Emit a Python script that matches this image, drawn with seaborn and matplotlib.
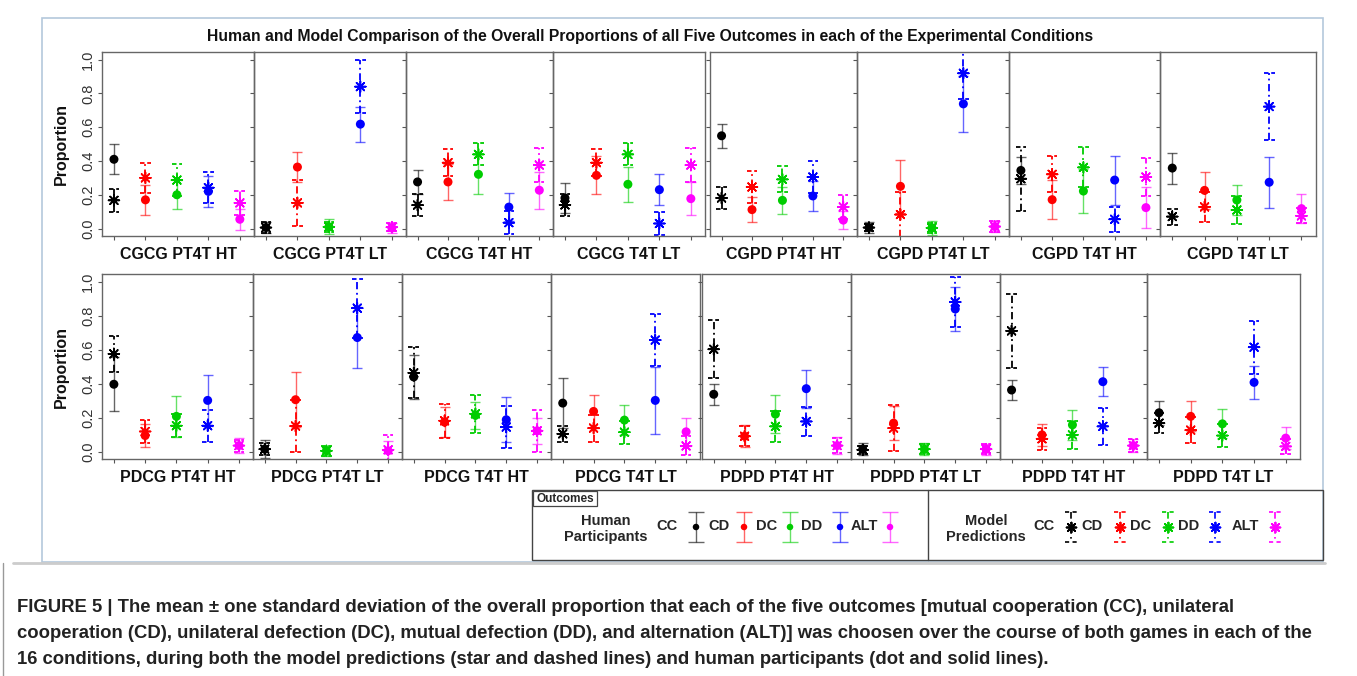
import numpy as np
import pandas as pd
import matplotlib
matplotlib.use("Agg")
import matplotlib.pyplot as plt
from matplotlib.patches import Rectangle
import seaborn as sns

outcomes = ["CC", "CD", "DC", "DD", "ALT"]
colors = ["#000000", "#ff0000", "#00cd00", "#0000ff", "#ff00ff"]

conditions = ["CGCG PT4T HT", "CGCG PT4T LT", "CGCG T4T HT", "CGCG T4T LT",
              "CGPD PT4T HT", "CGPD PT4T LT", "CGPD T4T HT", "CGPD T4T LT",
              "PDCG PT4T HT", "PDCG PT4T LT", "PDCG T4T HT", "PDCG T4T LT",
              "PDPD PT4T HT", "PDPD PT4T LT", "PDPD T4T HT", "PDPD T4T LT"]

# human participants: mean and sd, outcome order CC, CD, DC, DD, ALT
human_mean = [
    [0.410, 0.170, 0.200, 0.220, 0.055],
    [0.006, 0.364, 0.010, 0.618, 0.004],
    [0.276, 0.276, 0.321, 0.127, 0.227],
    [0.181, 0.315, 0.262, 0.230, 0.177],
    [0.549, 0.112, 0.167, 0.193, 0.050],
    [0.006, 0.250, 0.004, 0.738, 0.012],
    [0.344, 0.171, 0.222, 0.287, 0.124],
    [0.358, 0.226, 0.169, 0.274, 0.118],
    [0.396, 0.094, 0.207, 0.301, 0.035],
    [0.014, 0.305, 0.004, 0.671, 0.004],
    [0.439, 0.173, 0.213, 0.187, 0.122],
    [0.285, 0.236, 0.185, 0.301, 0.116],
    [0.337, 0.090, 0.220, 0.370, 0.035],
    [0.014, 0.167, 0.014, 0.839, 0.014],
    [0.362, 0.098, 0.157, 0.411, 0.035],
    [0.228, 0.207, 0.163, 0.407, 0.079],
]
human_sd = [
    [0.088, 0.088, 0.087, 0.090, 0.062],
    [0.035, 0.090, 0.045, 0.103, 0.030],
    [0.073, 0.105, 0.118, 0.085, 0.110],
    [0.087, 0.113, 0.103, 0.090, 0.098],
    [0.071, 0.072, 0.078, 0.090, 0.054],
    [0.030, 0.155, 0.040, 0.165, 0.035],
    [0.079, 0.116, 0.128, 0.145, 0.121],
    [0.092, 0.109, 0.089, 0.150, 0.085],
    [0.160, 0.069, 0.120, 0.152, 0.045],
    [0.053, 0.162, 0.030, 0.178, 0.060],
    [0.131, 0.088, 0.080, 0.132, 0.078],
    [0.145, 0.098, 0.087, 0.195, 0.081],
    [0.063, 0.065, 0.113, 0.112, 0.050],
    [0.035, 0.102, 0.036, 0.130, 0.032],
    [0.058, 0.065, 0.088, 0.087, 0.040],
    [0.072, 0.088, 0.085, 0.095, 0.067],
]
# model predictions
model_mean = [
    [0.167, 0.300, 0.287, 0.242, 0.152],
    [0.006, 0.152, 0.010, 0.840, 0.008],
    [0.139, 0.390, 0.439, 0.035, 0.376],
    [0.140, 0.390, 0.439, 0.030, 0.376],
    [0.181, 0.246, 0.291, 0.305, 0.128],
    [0.006, 0.083, 0.004, 0.919, 0.012],
    [0.295, 0.321, 0.362, 0.055, 0.305],
    [0.071, 0.128, 0.110, 0.722, 0.075],
    [0.575, 0.118, 0.152, 0.152, 0.035],
    [0.014, 0.150, 0.004, 0.844, 0.010],
    [0.463, 0.181, 0.222, 0.144, 0.122],
    [0.104, 0.138, 0.114, 0.656, 0.033],
    [0.602, 0.090, 0.148, 0.177, 0.035],
    [0.010, 0.138, 0.014, 0.880, 0.014],
    [0.710, 0.075, 0.098, 0.148, 0.035],
    [0.167, 0.126, 0.094, 0.614, 0.030],
]
model_sd = [
    [0.067, 0.088, 0.093, 0.090, 0.071],
    [0.030, 0.137, 0.030, 0.157, 0.025],
    [0.065, 0.080, 0.065, 0.068, 0.100],
    [0.063, 0.079, 0.065, 0.070, 0.100],
    [0.066, 0.092, 0.077, 0.093, 0.069],
    [0.020, 0.133, 0.030, 0.155, 0.030],
    [0.190, 0.107, 0.118, 0.073, 0.111],
    [0.047, 0.089, 0.082, 0.197, 0.044],
    [0.104, 0.070, 0.069, 0.095, 0.035],
    [0.036, 0.153, 0.030, 0.173, 0.088],
    [0.150, 0.101, 0.112, 0.125, 0.125],
    [0.047, 0.079, 0.068, 0.155, 0.056],
    [0.170, 0.060, 0.089, 0.083, 0.045],
    [0.025, 0.134, 0.030, 0.146, 0.030],
    [0.218, 0.065, 0.084, 0.108, 0.040],
    [0.057, 0.077, 0.068, 0.156, 0.043],
]

rows = []
for i, cond in enumerate(conditions):
    for j, out in enumerate(outcomes):
        rows.append([cond, out, j + 1, "Human", human_mean[i][j], human_sd[i][j]])
        rows.append([cond, out, j + 1, "Model", model_mean[i][j], model_sd[i][j]])
df = pd.DataFrame(rows, columns=["condition", "outcome", "pos", "source", "mean", "sd"])
pal = dict(zip(outcomes, colors))

sns.set_theme(style="white")
plt.rcParams["font.family"] = ["Liberation Sans", "DejaVu Sans"]

W, H = 1357, 676
fig = plt.figure(figsize=(W / 100, H / 100), dpi=100)

bg = fig.add_axes([0, 0, 1, 1], zorder=-1)
bg.set_xlim(0, W)
bg.set_ylim(H, 0)
bg.axis("off")

# panel boxes in pixels (left, right), per row
top_edges = [(102, 254), (254, 406), (406, 553), (553, 705),
             (710, 857), (857, 1009), (1009, 1160), (1160, 1316)]
bot_edges = [(102, 253), (253, 402), (402, 551), (551, 700),
             (702, 851), (851, 1000), (1000, 1147), (1147, 1300)]
rows_y = [(52, 236), (274, 459)]

dash_line = (0, (4, 2, 1, 2))
cap_w = 0.17

for i, cond in enumerate(conditions):
    r = i // 8
    l, rr = (top_edges if r == 0 else bot_edges)[i % 8]
    t, b = rows_y[r]
    ax = fig.add_axes([l / W, 1 - b / H, (rr - l) / W, (b - t) / H])
    ax.set_facecolor("none")
    sub = df[df.condition == cond]
    hum = sub[sub.source == "Human"]
    mod = sub[sub.source == "Model"]

    for _, row in hum.iterrows():
        ax.errorbar(row["pos"], row["mean"], yerr=row["sd"], fmt="none",
                    ecolor=pal[row["outcome"]], elinewidth=1.0, capsize=3.6,
                    capthick=1.0, alpha=0.6, zorder=2)
    for _, row in mod.iterrows():
        c = pal[row["outcome"]]
        lo, hi = row["mean"] - row["sd"], row["mean"] + row["sd"]
        ax.vlines(row["pos"], lo, hi, colors=c, linestyles=dash_line, linewidth=1.3, zorder=2)
        ax.hlines([lo, hi], row["pos"] - cap_w, row["pos"] + cap_w, colors=c,
                  linestyles=(0, (2.5, 1.5)), linewidth=1.3, zorder=2)

    sns.scatterplot(data=hum, x="pos", y="mean", hue="outcome", palette=pal,
                    marker="o", s=42, edgecolor="none", legend=False, ax=ax, zorder=3)
    sns.scatterplot(data=mod, x="pos", y="mean", hue="outcome", palette=pal,
                    marker=(8, 2, 0), s=60, linewidth=1.2, legend=False, ax=ax, zorder=4)

    ax.set_xlim(0.62, 5.45)
    ax.set_ylim(-0.044, 1.045)
    ax.set_xticks(range(1, 6))
    ax.set_xticklabels([])
    ax.set_yticks([0, 0.2, 0.4, 0.6, 0.8, 1.0])
    ax.tick_params(axis="both", direction="out", length=3, width=0.8,
                   color="#555555", left=True, bottom=True, pad=2)
    for s in ax.spines.values():
        s.set_color("#666666")
        s.set_linewidth(1.0)
    ax.set_xlabel(cond, fontsize=11.5, fontweight="bold", labelpad=3, color="#111111")
    ax.set_ylabel("")
    if i % 8 == 0:
        ax.set_yticklabels(["0.0", "0.2", "0.4", "0.6", "0.8", "1.0"],
                           rotation=90, va="center", fontsize=10.5, color="#333333")
        ax.set_ylabel("Proportion", fontsize=11.5, fontweight="bold", color="#111111")
        ax.yaxis.set_label_coords(-0.22, 0.5)
    else:
        ax.set_yticklabels([])

# outer frame and title
bg.add_patch(Rectangle((42, 18), 1323 - 42, 562 - 18, fill=False,
                       edgecolor="#b4c8dc", linewidth=1.2))
bg.plot([13, 1325], [563, 563], color="#cccccc", linewidth=2)
bg.plot([3, 3], [563, 676], color="#999999", linewidth=1)
bg.text(650, 37, "Human and Model Comparison of the Overall Proportions of all Five Outcomes "
        "in each of the Experimental Conditions", ha="center", va="center",
        fontsize=11.3, fontweight="bold", color="#111111")

# legend
bg.add_patch(Rectangle((532, 490), 1323 - 532, 560 - 490, fill=False,
                       edgecolor="#444444", linewidth=1.0))
bg.plot([928, 928], [490, 560], color="#444444", linewidth=1.0)
bg.add_patch(Rectangle((533, 491), 64, 15, fill=False, edgecolor="#444444", linewidth=0.9))
bg.text(565, 499, "Outcomes", ha="center", va="center", fontsize=8.5, fontweight="bold")
bg.text(606, 529, "Human\nParticipants", ha="center", va="center", fontsize=10.5,
        fontweight="bold", linespacing=1.15)
bg.text(986, 529, "Model\nPredictions", ha="center", va="center", fontsize=10.5,
        fontweight="bold", linespacing=1.15)

hum_lab_x = [667, 719, 767, 812, 864]
hum_key_x = [696, 744, 790, 840, 890]
mod_lab_x = [1044, 1092, 1141, 1189, 1245]
mod_key_x = [1071, 1120, 1168, 1215, 1275]
for k, out in enumerate(outcomes):
    c = colors[k]
    bg.text(hum_lab_x[k], 526, out, ha="center", va="center", fontsize=10.5, fontweight="bold")
    bg.errorbar(hum_key_x[k], 527, yerr=15, fmt="none", ecolor=c, elinewidth=1.0,
                capsize=6, capthick=1.0, alpha=0.6)
    bg.scatter(hum_key_x[k], 527, s=22, color=c, edgecolor="none", zorder=3)
    bg.text(mod_lab_x[k], 526, out, ha="center", va="center", fontsize=10.5, fontweight="bold")
    bg.vlines(mod_key_x[k], 512, 542, colors=c, linestyles=dash_line, linewidth=1.2)
    bg.hlines([512, 542], mod_key_x[k] - 6, mod_key_x[k] + 6, colors=c,
              linestyles=(0, (2.5, 2)), linewidth=1.2)
    bg.scatter(mod_key_x[k], 527, s=50, marker=(8, 2, 0), color=c, linewidth=1.3, zorder=3)

# caption
caption = [
    "FIGURE 5 | The mean \u00b1 one standard deviation of the overall proportion that each of the five "
    "outcomes [mutual cooperation (CC), unilateral",
    "cooperation (CD), unilateral defection (DC), mutual defection (DD), and alternation (ALT)] was "
    "choosen over the course of both games in each of the",
    "16 conditions, during both the model predictions (star and dashed lines) and human participants "
    "(dot and solid lines).",
]
for k, line in enumerate(caption):
    bg.text(17, 607 + 26 * k, line, ha="left", va="center", fontsize=13.3,
            fontweight="bold", color="#222222")

fig.savefig("out.png", dpi=100)
